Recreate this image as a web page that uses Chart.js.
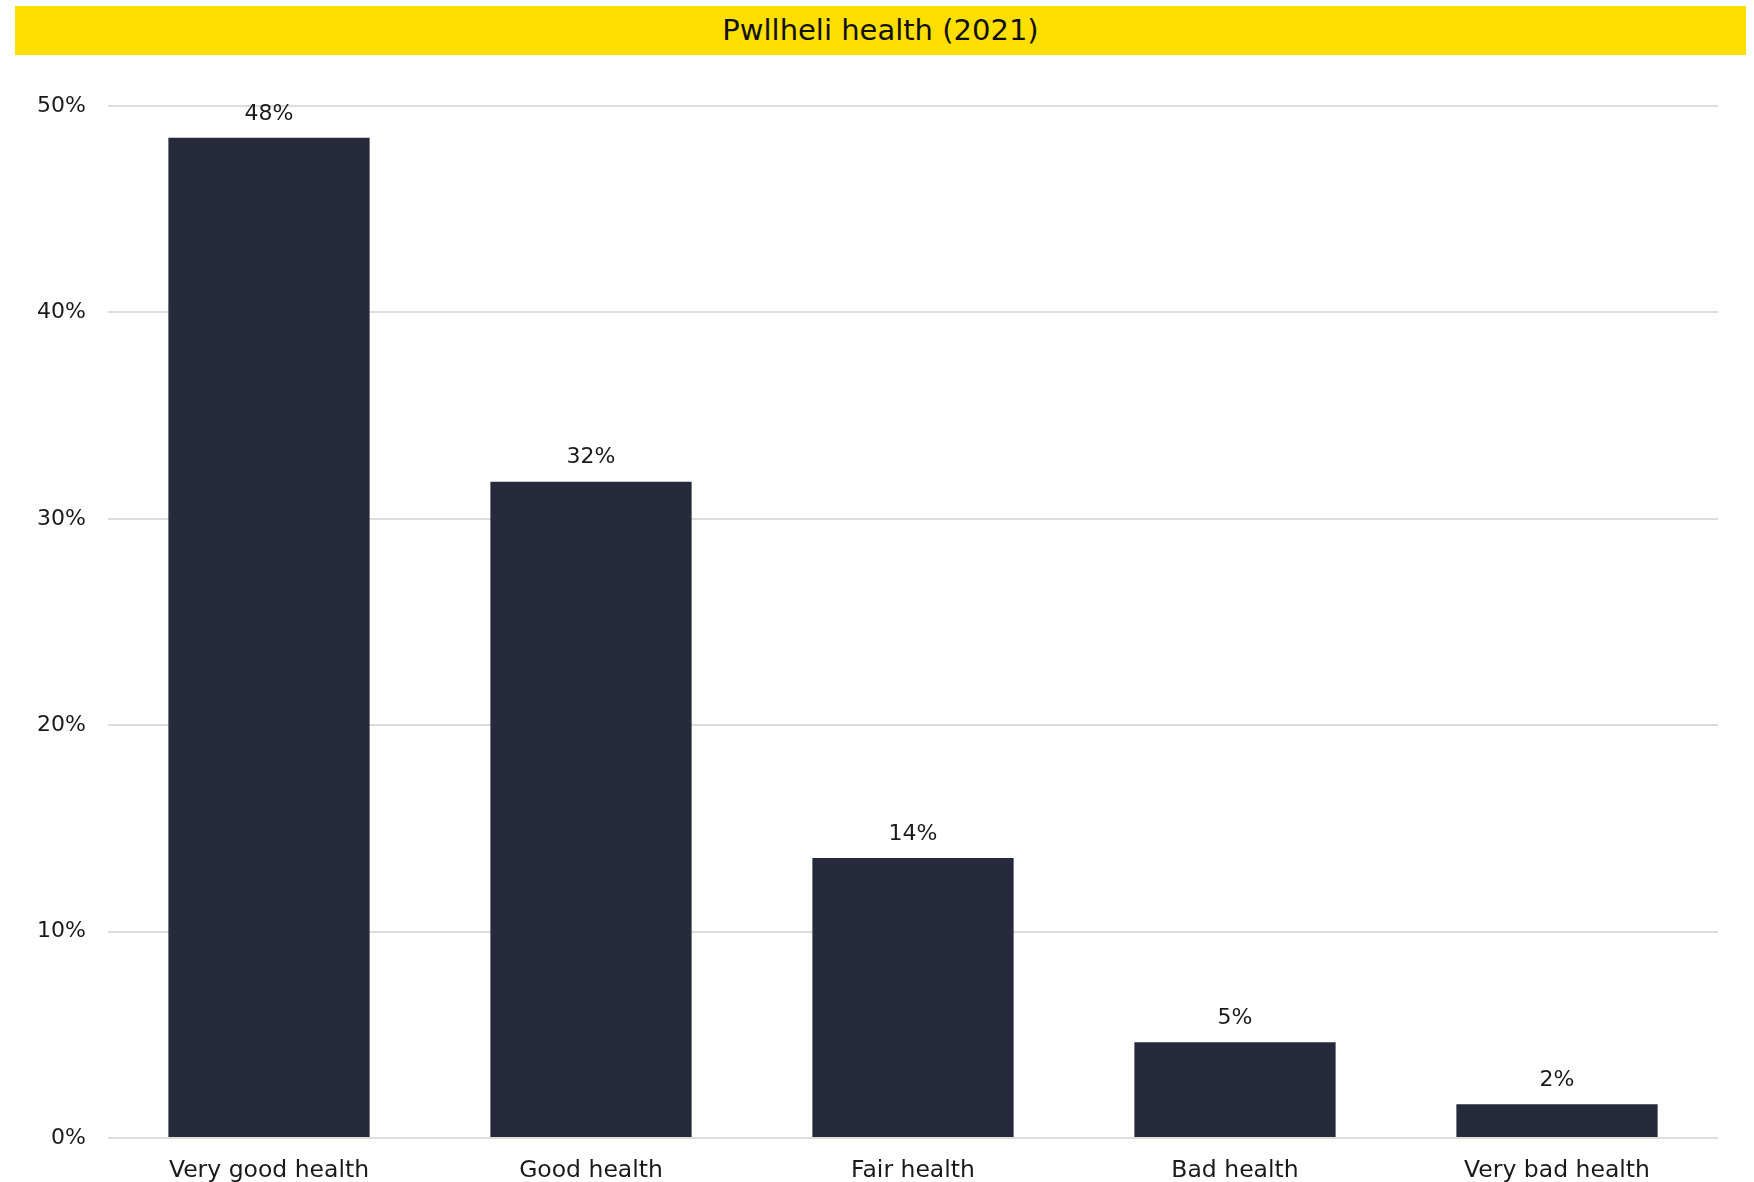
<!DOCTYPE html>
<html>
<head>
<meta charset="utf-8">
<script src="https://cdn.jsdelivr.net/npm/chart.js@4/dist/chart.umd.min.js"></script>
<style>
  html, body { margin: 0; padding: 0; background: #fff; }
  #wrap { position: relative; width: 1754px; height: 1182px; }
  #banner {
    position: absolute; left: 15px; top: 6px; width: 1731px; height: 49px;
    background: #ffdf00; color: #111; font-family: 'DejaVu Sans', sans-serif;
    font-size: 29px; line-height: 49px; text-align: center;
  }
  #box { position: absolute; left: 0; top: 0; width: 1754px; height: 1182px; }
</style>
</head>
<body>
<div id="wrap">
  <div id="box"><canvas id="chart"></canvas></div>
  <div id="banner">Pwllheli health (2021)</div>
</div>
<script>
const categories = ['Very good health', 'Good health', 'Fair health', 'Bad health', 'Very bad health'];
const shares = [48.46, 31.8, 13.56, 4.64, 1.63];
const yTicks = [0, 10, 20, 30, 40, 50];

const FONT = "'DejaVu Sans', sans-serif";
const INK = '#1a1a1a';

// value labels above each bar
const barLabels = {
  id: 'barLabels',
  afterDatasetsDraw(chart) {
    const ctx = chart.ctx;
    const meta = chart.getDatasetMeta(0);
    ctx.save();
    ctx.font = '22px ' + FONT;
    ctx.fillStyle = INK;
    ctx.textAlign = 'center';
    ctx.textBaseline = 'middle';
    meta.data.forEach((bar, i) => {
      ctx.fillText(Math.round(shares[i]) + '%', bar.x, bar.y - 24);
    });
    ctx.restore();
  },
};

new Chart(document.getElementById('chart'), {
  type: 'bar',
  data: {
    labels: categories,
    datasets: [{
      data: shares,
      backgroundColor: '#262a3c',
      categoryPercentage: 1,
      barPercentage: 0.625,
    }],
  },
  options: {
    responsive: true,
    maintainAspectRatio: false,
    animation: false,
    layout: { padding: { top: 106, right: 36, bottom: 0, left: 0 } },
    plugins: { legend: { display: false }, tooltip: { enabled: false } },
    scales: {
      x: {
        grid: { display: false, drawTicks: false },
        border: { display: false },
        ticks: { color: INK, font: { family: FONT, size: 23.5 }, padding: 19, maxRotation: 0 },
        afterFit(s) { s.height = 44; },
      },
      y: {
        min: 0,
        max: 50,
        afterBuildTicks(s) { s.ticks = yTicks.map(v => ({ value: v })); },
        grid: { color: '#dcdcdc', lineWidth: 2, drawTicks: false },
        border: { display: false },
        ticks: {
          color: INK, font: { family: FONT, size: 22 }, padding: 22,
          callback: v => v + '%',
        },
        afterFit(s) { s.width = 108; },
      },
    },
  },
  plugins: [barLabels],
});
</script>
</body>
</html>
